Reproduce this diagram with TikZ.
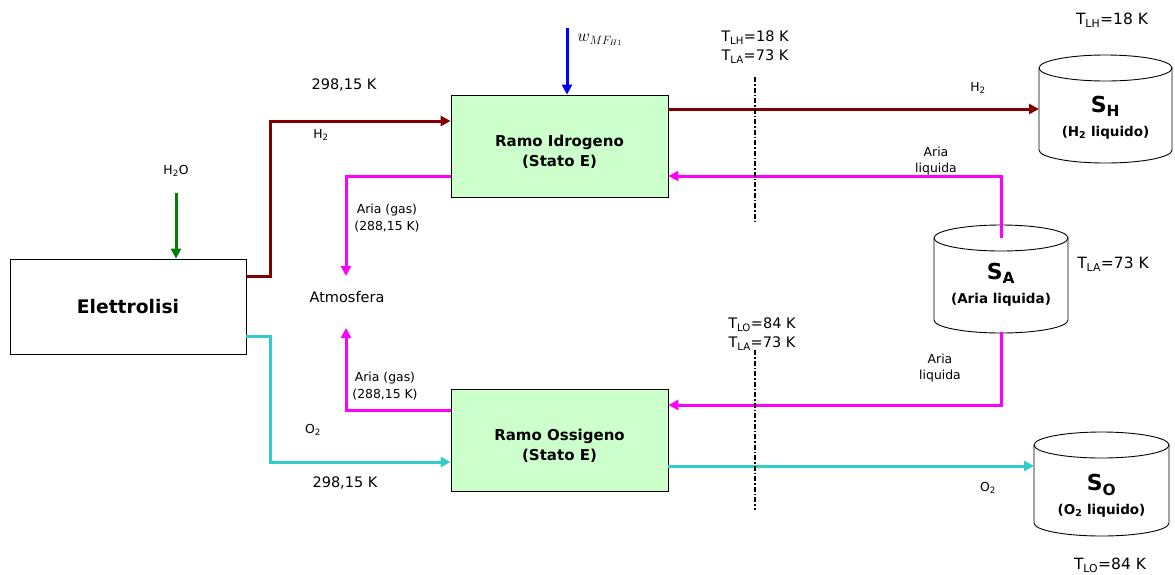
\documentclass[tikz,border=0pt]{standalone}
\usepackage{fontspec}
\setmainfont{DejaVu Sans}
\usetikzlibrary{arrows.meta}

\definecolor{h2red}{HTML}{800000}
\definecolor{airmag}{HTML}{FF00FF}
\definecolor{o2cyan}{HTML}{33CCCC}
\definecolor{watergreen}{HTML}{008000}
\definecolor{workblue}{HTML}{0000FF}
\definecolor{boxgreen}{HTML}{CCFFCC}

\newcommand{\lblfont}{\fontsize{12.4}{16.5}\selectfont}
\newcommand{\tempfont}{\fontsize{14.5}{19}\selectfont}
\newcommand{\boxfont}{\fontsize{15}{20}\selectfont\bfseries}

\begin{document}
\begin{tikzpicture}[x=1pt, y=-1pt,
  block/.style={draw, line width=0.8pt, fill=boxgreen, minimum width=217pt, minimum height=102pt},
  blocktext/.style={align=center, font=\boxfont, inner sep=0pt},
  tank/.style={inner sep=0pt, outer sep=0pt},
  tankline/.style={line width=0.9pt},
  tanktext/.style={align=center, font=\fontsize{13.5}{24}\selectfont\bfseries},
  lbl/.style={align=center, font=\lblfont, inner sep=1pt},
  temp/.style={align=center, font=\tempfont, inner sep=1pt},
  flow/.style={line width=3pt, -{Triangle[length=10pt,width=10pt]}},
  h2flow/.style={flow, draw=h2red},
  airflow/.style={flow, draw=airmag},
  o2flow/.style={flow, draw=o2cyan},
  cut/.style={line width=1.8pt, dash pattern=on 5pt off 2pt on 1.5pt off 2pt}
]
\useasboundingbox (0,0) rectangle (1175,574);

% blocchi
\node[draw, line width=0.8pt, minimum width=236pt, minimum height=95pt, font=\fontsize{18.7}{22}\selectfont\bfseries] (elettrolisi) at (128,306.5) {Elettrolisi};
\node[block] (ramoH) at (559.5,146) {};
\node[block] (ramoO) at (559.5,440.5) {};
\node[blocktext] (ramoHtxt) at ([yshift=-6pt]ramoH.center) {Ramo Idrogeno\\(Stato E)};
\node[blocktext] (ramoOtxt) at ([yshift=-5pt]ramoO.center) {Ramo Ossigeno\\(Stato E)};
\node[temp] (atm) at (347,297) {Atmosfera};

% serbatoi
\node[tank, minimum width=133pt, minimum height=82pt] (SH) at (1105.5,109) {};
\node[tank, minimum width=134pt, minimum height=82pt] (SA) at (1001,279) {};
\node[tank, minimum width=135pt, minimum height=78pt] (SO) at (1101.5,484) {};
\foreach \t/\r in {SH/66.5, SA/67, SO/67.5} {
  \draw[tankline] (\t.north west) -- (\t.south west) arc[start angle=180, end angle=360, x radius=\r pt, y radius=13pt] -- (\t.north east);
  \draw[tankline] (\t.north) ellipse[x radius=\r pt, y radius=13pt];
}
\node[tanktext] (SHtxt) at ([yshift=-9pt]SH.center) {{\fontsize{22}{24}\selectfont S\textsubscript{H}}\\(H\textsubscript{2} liquido)};
\node[tanktext] (SAtxt) at ([yshift=-6pt]SA.center) {{\fontsize{22}{24}\selectfont S\textsubscript{A}}\\(Aria liquida)};
\node[tanktext] (SOtxt) at ([yshift=-12pt]SO.center) {{\fontsize{22}{24}\selectfont S\textsubscript{O}}\\(O\textsubscript{2} liquido)};

% ingressi
\node[lbl] (h2o) at (176,171) {H\textsubscript{2}O};
\draw[flow, draw=watergreen] ([yshift=-15pt]h2o.south) -- (h2o.south |- elettrolisi.north);
\coordinate (wtop) at (567,28);
\node[font=\fontsize{17}{19}\selectfont] (wlbl) at (600,40) {$w_{MF_{H1}}$};
\draw[flow, draw=workblue] (wtop) -- (wtop |- ramoH.north);

% idrogeno
\draw[h2flow] ([yshift=30.5pt]elettrolisi.east) -- ++(24,0) |- ([yshift=25pt]ramoH.west);
\coordinate (h2out) at (ramoH.east |- SH.west);
\draw[h2flow] (h2out) -- (SH.west);
\node[lbl] (h2a) at (321,135) {H\textsubscript{2}};
\node[lbl] (h2b) at (978,88) {H\textsubscript{2}};
\node[temp] (th2) at (344,85) {298,15 K};

% ossigeno
\draw[o2flow] ([yshift=-30pt]elettrolisi.east) -- ++(24,0) |- ([yshift=-21.5pt]ramoO.west);
\path ([yshift=-25.5pt]ramoO.east) coordinate (o2out);
\draw[o2flow] (o2out) -- (o2out -| SO.west);
\node[lbl] (o2a) at (313,430) {O\textsubscript{2}};
\node[lbl] (o2b) at (988,488) {O\textsubscript{2}};
\node[temp] (to2) at (345,483) {298,15 K};

% aria
\coordinate (atmtop) at (346,276);
\coordinate (atmbot) at (346,328);
\draw[airflow] ([yshift=-30pt]ramoH.west) -| (atmtop);
\draw[airflow] ([yshift=30.5pt]ramoO.west) -| (atmbot);
\draw[airflow] (SA.north) |- ([yshift=-30pt]ramoH.east);
\draw[airflow] ([yshift=-12pt]SA.south) |- ([yshift=35.5pt]ramoO.east);
\node[lbl] (gas1) at (387,218) {Aria (gas)\\(288,15 K)};
\node[lbl] (gas2) at (385,386) {Aria (gas)\\(288,15 K)};
\node[lbl] (liq1) at (936,161) {Aria\\liquida};
\node[lbl] (liq2) at (940,368) {Aria\\liquida};

% sezioni
\coordinate (cutHa) at (755,77);
\coordinate (cutHb) at (755,222);
\coordinate (cutOa) at (755,350);
\coordinate (cutOb) at (755,510);
\draw[cut] (cutHa) -- (cutHb);
\draw[cut] (cutOa) -- (cutOb);
\node[temp] (tcutH) at (755,47) {T\textsubscript{LH}=18 K\\T\textsubscript{LA}=73 K};
\node[temp] (tcutO) at (762,334) {T\textsubscript{LO}=84 K\\T\textsubscript{LA}=73 K};

% temperature serbatoi
\node[temp, font=\fontsize{15.5}{19}\selectfont] (tSH) at (1112,20) {T\textsubscript{LH}=18 K};
\node[temp, font=\fontsize{15.5}{19}\selectfont] (tSA) at (1113,264) {T\textsubscript{LA}=73 K};
\node[temp, font=\fontsize{15.5}{19}\selectfont] (tSO) at (1110,565) {T\textsubscript{LO}=84 K};
\end{tikzpicture}
\end{document}
